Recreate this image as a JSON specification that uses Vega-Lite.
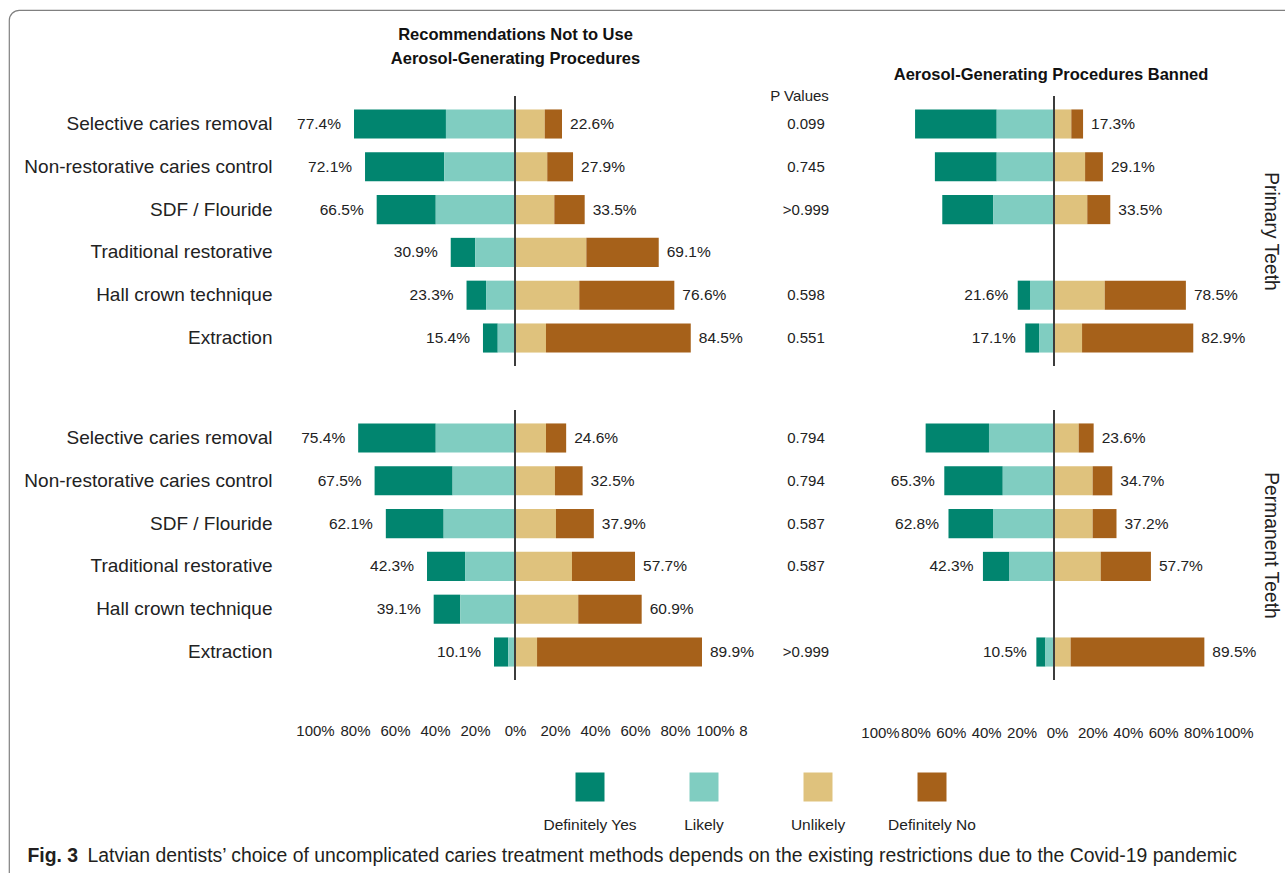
{
  "$schema": "https://vega.github.io/schema/vega-lite/v6.json",
  "width": 1286,
  "height": 873,
  "autosize": {"type": "none"},
  "padding": {"left": 9, "top": 10, "right": -10, "bottom": -10},
  "background": "white",
  "config": {
    "font": "Liberation Sans",
    "view": {"stroke": "#808080", "strokeWidth": 1.2, "cornerRadius": 10},
    "axis": {"grid": false, "domain": false, "ticks": false, "tickSize": 0, "labelColor": "#222222", "titleColor": "#222222", "labelFont": "Liberation Sans", "titleFont": "Liberation Sans", "labelFlush": false, "labelOverlap": false},
    "text": {"font": "Liberation Sans", "color": "#222222"}
  },
  "datasets": {
    "bars": [
      {"panel": "L", "group": "Primary", "method": "Selective caries removal", "response": "Definitely Yes", "value": -44.2},
      {"panel": "L", "group": "Primary", "method": "Selective caries removal", "response": "Likely", "value": -33.2},
      {"panel": "L", "group": "Primary", "method": "Selective caries removal", "response": "Unlikely", "value": 14.3},
      {"panel": "L", "group": "Primary", "method": "Selective caries removal", "response": "Definitely No", "value": 8.3},
      {"panel": "L", "group": "Primary", "method": "Non-restorative caries control", "response": "Definitely Yes", "value": -38.1},
      {"panel": "L", "group": "Primary", "method": "Non-restorative caries control", "response": "Likely", "value": -34.0},
      {"panel": "L", "group": "Primary", "method": "Non-restorative caries control", "response": "Unlikely", "value": 15.5},
      {"panel": "L", "group": "Primary", "method": "Non-restorative caries control", "response": "Definitely No", "value": 12.4},
      {"panel": "L", "group": "Primary", "method": "SDF / Flouride", "response": "Definitely Yes", "value": -28.4},
      {"panel": "L", "group": "Primary", "method": "SDF / Flouride", "response": "Likely", "value": -38.1},
      {"panel": "L", "group": "Primary", "method": "SDF / Flouride", "response": "Unlikely", "value": 18.9},
      {"panel": "L", "group": "Primary", "method": "SDF / Flouride", "response": "Definitely No", "value": 14.6},
      {"panel": "L", "group": "Primary", "method": "Traditional restorative", "response": "Definitely Yes", "value": -11.8},
      {"panel": "L", "group": "Primary", "method": "Traditional restorative", "response": "Likely", "value": -19.1},
      {"panel": "L", "group": "Primary", "method": "Traditional restorative", "response": "Unlikely", "value": 34.3},
      {"panel": "L", "group": "Primary", "method": "Traditional restorative", "response": "Definitely No", "value": 34.8},
      {"panel": "L", "group": "Primary", "method": "Hall crown technique", "response": "Definitely Yes", "value": -9.4},
      {"panel": "L", "group": "Primary", "method": "Hall crown technique", "response": "Likely", "value": -13.9},
      {"panel": "L", "group": "Primary", "method": "Hall crown technique", "response": "Unlikely", "value": 30.9},
      {"panel": "L", "group": "Primary", "method": "Hall crown technique", "response": "Definitely No", "value": 45.7},
      {"panel": "L", "group": "Primary", "method": "Extraction", "response": "Definitely Yes", "value": -7.1},
      {"panel": "L", "group": "Primary", "method": "Extraction", "response": "Likely", "value": -8.3},
      {"panel": "L", "group": "Primary", "method": "Extraction", "response": "Unlikely", "value": 14.9},
      {"panel": "L", "group": "Primary", "method": "Extraction", "response": "Definitely No", "value": 69.6},

      {"panel": "L", "group": "Permanent", "method": "Selective caries removal", "response": "Definitely Yes", "value": -37.3},
      {"panel": "L", "group": "Permanent", "method": "Selective caries removal", "response": "Likely", "value": -38.1},
      {"panel": "L", "group": "Permanent", "method": "Selective caries removal", "response": "Unlikely", "value": 14.9},
      {"panel": "L", "group": "Permanent", "method": "Selective caries removal", "response": "Definitely No", "value": 9.7},
      {"panel": "L", "group": "Permanent", "method": "Non-restorative caries control", "response": "Definitely Yes", "value": -37.5},
      {"panel": "L", "group": "Permanent", "method": "Non-restorative caries control", "response": "Likely", "value": -30.0},
      {"panel": "L", "group": "Permanent", "method": "Non-restorative caries control", "response": "Unlikely", "value": 19.2},
      {"panel": "L", "group": "Permanent", "method": "Non-restorative caries control", "response": "Definitely No", "value": 13.3},
      {"panel": "L", "group": "Permanent", "method": "SDF / Flouride", "response": "Definitely Yes", "value": -27.8},
      {"panel": "L", "group": "Permanent", "method": "SDF / Flouride", "response": "Likely", "value": -34.3},
      {"panel": "L", "group": "Permanent", "method": "SDF / Flouride", "response": "Unlikely", "value": 19.7},
      {"panel": "L", "group": "Permanent", "method": "SDF / Flouride", "response": "Definitely No", "value": 18.2},
      {"panel": "L", "group": "Permanent", "method": "Traditional restorative", "response": "Definitely Yes", "value": -18.3},
      {"panel": "L", "group": "Permanent", "method": "Traditional restorative", "response": "Likely", "value": -24.0},
      {"panel": "L", "group": "Permanent", "method": "Traditional restorative", "response": "Unlikely", "value": 27.4},
      {"panel": "L", "group": "Permanent", "method": "Traditional restorative", "response": "Definitely No", "value": 30.3},
      {"panel": "L", "group": "Permanent", "method": "Hall crown technique", "response": "Definitely Yes", "value": -12.8},
      {"panel": "L", "group": "Permanent", "method": "Hall crown technique", "response": "Likely", "value": -26.3},
      {"panel": "L", "group": "Permanent", "method": "Hall crown technique", "response": "Unlikely", "value": 30.4},
      {"panel": "L", "group": "Permanent", "method": "Hall crown technique", "response": "Definitely No", "value": 30.5},
      {"panel": "L", "group": "Permanent", "method": "Extraction", "response": "Definitely Yes", "value": -6.9},
      {"panel": "L", "group": "Permanent", "method": "Extraction", "response": "Likely", "value": -3.2},
      {"panel": "L", "group": "Permanent", "method": "Extraction", "response": "Unlikely", "value": 10.6},
      {"panel": "L", "group": "Permanent", "method": "Extraction", "response": "Definitely No", "value": 79.3},

      {"panel": "R", "group": "Primary", "method": "Selective caries removal", "response": "Definitely Yes", "value": -48.6},
      {"panel": "R", "group": "Primary", "method": "Selective caries removal", "response": "Likely", "value": -34.1},
      {"panel": "R", "group": "Primary", "method": "Selective caries removal", "response": "Unlikely", "value": 10.3},
      {"panel": "R", "group": "Primary", "method": "Selective caries removal", "response": "Definitely No", "value": 7.0},
      {"panel": "R", "group": "Primary", "method": "Non-restorative caries control", "response": "Definitely Yes", "value": -36.8},
      {"panel": "R", "group": "Primary", "method": "Non-restorative caries control", "response": "Likely", "value": -34.1},
      {"panel": "R", "group": "Primary", "method": "Non-restorative caries control", "response": "Unlikely", "value": 18.5},
      {"panel": "R", "group": "Primary", "method": "Non-restorative caries control", "response": "Definitely No", "value": 10.6},
      {"panel": "R", "group": "Primary", "method": "SDF / Flouride", "response": "Definitely Yes", "value": -30.4},
      {"panel": "R", "group": "Primary", "method": "SDF / Flouride", "response": "Likely", "value": -36.1},
      {"panel": "R", "group": "Primary", "method": "SDF / Flouride", "response": "Unlikely", "value": 19.8},
      {"panel": "R", "group": "Primary", "method": "SDF / Flouride", "response": "Definitely No", "value": 13.7},
      {"panel": "R", "group": "Primary", "method": "Hall crown technique", "response": "Definitely Yes", "value": -7.3},
      {"panel": "R", "group": "Primary", "method": "Hall crown technique", "response": "Likely", "value": -14.3},
      {"panel": "R", "group": "Primary", "method": "Hall crown technique", "response": "Unlikely", "value": 30.2},
      {"panel": "R", "group": "Primary", "method": "Hall crown technique", "response": "Definitely No", "value": 48.3},
      {"panel": "R", "group": "Primary", "method": "Extraction", "response": "Definitely Yes", "value": -8.2},
      {"panel": "R", "group": "Primary", "method": "Extraction", "response": "Likely", "value": -8.9},
      {"panel": "R", "group": "Primary", "method": "Extraction", "response": "Unlikely", "value": 16.7},
      {"panel": "R", "group": "Primary", "method": "Extraction", "response": "Definitely No", "value": 66.2},

      {"panel": "R", "group": "Permanent", "method": "Selective caries removal", "response": "Definitely Yes", "value": -37.7},
      {"panel": "R", "group": "Permanent", "method": "Selective caries removal", "response": "Likely", "value": -38.7},
      {"panel": "R", "group": "Permanent", "method": "Selective caries removal", "response": "Unlikely", "value": 14.7},
      {"panel": "R", "group": "Permanent", "method": "Selective caries removal", "response": "Definitely No", "value": 8.9},
      {"panel": "R", "group": "Permanent", "method": "Non-restorative caries control", "response": "Definitely Yes", "value": -34.8},
      {"panel": "R", "group": "Permanent", "method": "Non-restorative caries control", "response": "Likely", "value": -30.5},
      {"panel": "R", "group": "Permanent", "method": "Non-restorative caries control", "response": "Unlikely", "value": 23.0},
      {"panel": "R", "group": "Permanent", "method": "Non-restorative caries control", "response": "Definitely No", "value": 11.7},
      {"panel": "R", "group": "Permanent", "method": "SDF / Flouride", "response": "Definitely Yes", "value": -26.5},
      {"panel": "R", "group": "Permanent", "method": "SDF / Flouride", "response": "Likely", "value": -36.3},
      {"panel": "R", "group": "Permanent", "method": "SDF / Flouride", "response": "Unlikely", "value": 23.0},
      {"panel": "R", "group": "Permanent", "method": "SDF / Flouride", "response": "Definitely No", "value": 14.2},
      {"panel": "R", "group": "Permanent", "method": "Traditional restorative", "response": "Definitely Yes", "value": -15.8},
      {"panel": "R", "group": "Permanent", "method": "Traditional restorative", "response": "Likely", "value": -26.5},
      {"panel": "R", "group": "Permanent", "method": "Traditional restorative", "response": "Unlikely", "value": 27.8},
      {"panel": "R", "group": "Permanent", "method": "Traditional restorative", "response": "Definitely No", "value": 29.9},
      {"panel": "R", "group": "Permanent", "method": "Extraction", "response": "Definitely Yes", "value": -5.4},
      {"panel": "R", "group": "Permanent", "method": "Extraction", "response": "Likely", "value": -5.1},
      {"panel": "R", "group": "Permanent", "method": "Extraction", "response": "Unlikely", "value": 9.9},
      {"panel": "R", "group": "Permanent", "method": "Extraction", "response": "Definitely No", "value": 79.6}
    ],
    "labels": [
      {"panel": "L", "group": "Primary", "method": "Selective caries removal", "side": "yes", "value": -77.4, "label": "77.4%"},
      {"panel": "L", "group": "Primary", "method": "Non-restorative caries control", "side": "yes", "value": -72.1, "label": "72.1%"},
      {"panel": "L", "group": "Primary", "method": "SDF / Flouride", "side": "yes", "value": -66.5, "label": "66.5%"},
      {"panel": "L", "group": "Primary", "method": "Traditional restorative", "side": "yes", "value": -30.9, "label": "30.9%"},
      {"panel": "L", "group": "Primary", "method": "Hall crown technique", "side": "yes", "value": -23.3, "label": "23.3%"},
      {"panel": "L", "group": "Primary", "method": "Extraction", "side": "yes", "value": -15.4, "label": "15.4%"},
      {"panel": "L", "group": "Primary", "method": "Selective caries removal", "side": "no", "value": 22.6, "label": "22.6%"},
      {"panel": "L", "group": "Primary", "method": "Non-restorative caries control", "side": "no", "value": 27.9, "label": "27.9%"},
      {"panel": "L", "group": "Primary", "method": "SDF / Flouride", "side": "no", "value": 33.5, "label": "33.5%"},
      {"panel": "L", "group": "Primary", "method": "Traditional restorative", "side": "no", "value": 69.1, "label": "69.1%"},
      {"panel": "L", "group": "Primary", "method": "Hall crown technique", "side": "no", "value": 76.6, "label": "76.6%"},
      {"panel": "L", "group": "Primary", "method": "Extraction", "side": "no", "value": 84.5, "label": "84.5%"},

      {"panel": "L", "group": "Permanent", "method": "Selective caries removal", "side": "yes", "value": -75.4, "label": "75.4%"},
      {"panel": "L", "group": "Permanent", "method": "Non-restorative caries control", "side": "yes", "value": -67.5, "label": "67.5%"},
      {"panel": "L", "group": "Permanent", "method": "SDF / Flouride", "side": "yes", "value": -62.1, "label": "62.1%"},
      {"panel": "L", "group": "Permanent", "method": "Traditional restorative", "side": "yes", "value": -42.3, "label": "42.3%"},
      {"panel": "L", "group": "Permanent", "method": "Hall crown technique", "side": "yes", "value": -39.1, "label": "39.1%"},
      {"panel": "L", "group": "Permanent", "method": "Extraction", "side": "yes", "value": -10.1, "label": "10.1%"},
      {"panel": "L", "group": "Permanent", "method": "Selective caries removal", "side": "no", "value": 24.6, "label": "24.6%"},
      {"panel": "L", "group": "Permanent", "method": "Non-restorative caries control", "side": "no", "value": 32.5, "label": "32.5%"},
      {"panel": "L", "group": "Permanent", "method": "SDF / Flouride", "side": "no", "value": 37.9, "label": "37.9%"},
      {"panel": "L", "group": "Permanent", "method": "Traditional restorative", "side": "no", "value": 57.7, "label": "57.7%"},
      {"panel": "L", "group": "Permanent", "method": "Hall crown technique", "side": "no", "value": 60.9, "label": "60.9%"},
      {"panel": "L", "group": "Permanent", "method": "Extraction", "side": "no", "value": 89.9, "label": "89.9%"},

      {"panel": "R", "group": "Primary", "method": "Hall crown technique", "side": "yes", "value": -21.6, "label": "21.6%"},
      {"panel": "R", "group": "Primary", "method": "Extraction", "side": "yes", "value": -17.1, "label": "17.1%"},
      {"panel": "R", "group": "Primary", "method": "Selective caries removal", "side": "no", "value": 17.3, "label": "17.3%"},
      {"panel": "R", "group": "Primary", "method": "Non-restorative caries control", "side": "no", "value": 29.1, "label": "29.1%"},
      {"panel": "R", "group": "Primary", "method": "SDF / Flouride", "side": "no", "value": 33.5, "label": "33.5%"},
      {"panel": "R", "group": "Primary", "method": "Hall crown technique", "side": "no", "value": 78.5, "label": "78.5%"},
      {"panel": "R", "group": "Primary", "method": "Extraction", "side": "no", "value": 82.9, "label": "82.9%"},

      {"panel": "R", "group": "Permanent", "method": "Non-restorative caries control", "side": "yes", "value": -65.3, "label": "65.3%"},
      {"panel": "R", "group": "Permanent", "method": "SDF / Flouride", "side": "yes", "value": -62.8, "label": "62.8%"},
      {"panel": "R", "group": "Permanent", "method": "Traditional restorative", "side": "yes", "value": -42.3, "label": "42.3%"},
      {"panel": "R", "group": "Permanent", "method": "Extraction", "side": "yes", "value": -10.5, "label": "10.5%"},
      {"panel": "R", "group": "Permanent", "method": "Selective caries removal", "side": "no", "value": 23.6, "label": "23.6%"},
      {"panel": "R", "group": "Permanent", "method": "Non-restorative caries control", "side": "no", "value": 34.7, "label": "34.7%"},
      {"panel": "R", "group": "Permanent", "method": "SDF / Flouride", "side": "no", "value": 37.2, "label": "37.2%"},
      {"panel": "R", "group": "Permanent", "method": "Traditional restorative", "side": "no", "value": 57.7, "label": "57.7%"},
      {"panel": "R", "group": "Permanent", "method": "Extraction", "side": "no", "value": 89.5, "label": "89.5%"}
    ],
    "rows": [
      {"group": "Primary", "method": "Selective caries removal", "p": "0.099"},
      {"group": "Primary", "method": "Non-restorative caries control", "p": "0.745"},
      {"group": "Primary", "method": "SDF / Flouride", "p": ">0.999"},
      {"group": "Primary", "method": "Traditional restorative", "p": ""},
      {"group": "Primary", "method": "Hall crown technique", "p": "0.598"},
      {"group": "Primary", "method": "Extraction", "p": "0.551"},
      {"group": "Permanent", "method": "Selective caries removal", "p": "0.794"},
      {"group": "Permanent", "method": "Non-restorative caries control", "p": "0.794"},
      {"group": "Permanent", "method": "SDF / Flouride", "p": "0.587"},
      {"group": "Permanent", "method": "Traditional restorative", "p": "0.587"},
      {"group": "Permanent", "method": "Hall crown technique", "p": ""},
      {"group": "Permanent", "method": "Extraction", "p": ">0.999"}
    ],
    "legend": [
      {"response": "Definitely Yes"},
      {"response": "Likely"},
      {"response": "Unlikely"},
      {"response": "Definitely No"}
    ]
  },
  "resolve": {"scale": {"x": "independent", "y": "independent"}},
  "layer": [
    {
      "data": {"name": "bars"},
      "transform": [{"filter": "datum.panel === 'L' && datum.group === 'Primary'"}],
      "mark": {"type": "bar"},
      "encoding": {
        "x": {"field": "value", "type": "quantitative", "scale": {"domain": [-100, 100], "range": [298, 714], "nice": false, "zero": false},
          "axis": {"orient": "top", "labels": false, "title": ["Recommendations Not to Use", "Aerosol-Generating Procedures"], "titleX": 506, "titleY": 24, "titleAlign": "center", "titleBaseline": "middle", "titleFontSize": 16.5, "titleFontWeight": "bold", "titleLineHeight": 24, "titleColor": "#111111"}},
        "y": {"field": "method", "type": "nominal",
          "scale": {"type": "band", "domain": ["Selective caries removal", "Non-restorative caries control", "SDF / Flouride", "Traditional restorative", "Hall crown technique", "Extraction"], "range": [86, 356], "paddingInner": 0.32, "paddingOuter": 0.314},
          "axis": {"orient": "left", "offset": -263, "labelPadding": 0, "labelFontSize": 19, "labelLimit": 500, "title": null}},
        "color": {"field": "response", "type": "nominal", "scale": {"domain": ["Definitely Yes", "Likely", "Unlikely", "Definitely No"], "range": ["#01856f", "#80cdc1", "#dfc27d", "#a6611a"]}, "legend": null},
        "order": {"field": "response", "sort": "descending"}
      }
    },
    {
      "data": {"name": "labels"},
      "transform": [{"filter": "datum.panel === 'L' && datum.group === 'Primary' && datum.side === 'yes'"}],
      "mark": {"type": "text", "align": "right", "baseline": "middle", "dx": -13, "fontSize": 15.5},
      "encoding": {
        "x": {"field": "value", "type": "quantitative", "scale": {"domain": [-100, 100], "range": [298, 714], "nice": false, "zero": false}, "axis": null},
        "y": {"field": "method", "type": "nominal", "scale": {"type": "band", "domain": ["Selective caries removal", "Non-restorative caries control", "SDF / Flouride", "Traditional restorative", "Hall crown technique", "Extraction"], "range": [86, 356], "paddingInner": 0.32, "paddingOuter": 0.314}, "axis": null},
        "text": {"field": "label"}
      }
    },
    {
      "data": {"name": "labels"},
      "transform": [{"filter": "datum.panel === 'L' && datum.group === 'Primary' && datum.side === 'no'"}],
      "mark": {"type": "text", "align": "left", "baseline": "middle", "dx": 8, "fontSize": 15.5},
      "encoding": {
        "x": {"field": "value", "type": "quantitative", "scale": {"domain": [-100, 100], "range": [298, 714], "nice": false, "zero": false}, "axis": null},
        "y": {"field": "method", "type": "nominal", "scale": {"type": "band", "domain": ["Selective caries removal", "Non-restorative caries control", "SDF / Flouride", "Traditional restorative", "Hall crown technique", "Extraction"], "range": [86, 356], "paddingInner": 0.32, "paddingOuter": 0.314}, "axis": null},
        "text": {"field": "label"}
      }
    },
    {
      "data": {"name": "rows"},
      "transform": [{"filter": "datum.group === 'Primary'"}],
      "mark": {"type": "tick", "orient": "vertical", "size": 56, "thickness": 2, "color": "#3c3c3c", "opacity": 1},
      "encoding": {
        "x": {"datum": 0, "type": "quantitative", "scale": {"domain": [-100, 100], "range": [298, 714], "nice": false, "zero": false}, "axis": null},
        "y": {"field": "method", "type": "nominal", "scale": {"type": "band", "domain": ["Selective caries removal", "Non-restorative caries control", "SDF / Flouride", "Traditional restorative", "Hall crown technique", "Extraction"], "range": [86, 356], "paddingInner": 0.32, "paddingOuter": 0.314}, "axis": null}
      }
    },

    {
      "data": {"name": "bars"},
      "transform": [{"filter": "datum.panel === 'L' && datum.group === 'Permanent'"}],
      "mark": {"type": "bar"},
      "encoding": {
        "x": {"field": "value", "type": "quantitative", "scale": {"domain": [-100, 100], "range": [298, 714], "nice": false, "zero": false}, "axis": null},
        "y": {"field": "method", "type": "nominal",
          "scale": {"type": "band", "domain": ["Selective caries removal", "Non-restorative caries control", "SDF / Flouride", "Traditional restorative", "Hall crown technique", "Extraction"], "range": [400, 670], "paddingInner": 0.32, "paddingOuter": 0.314},
          "axis": {"orient": "left", "offset": -263, "labelPadding": 0, "labelFontSize": 19, "labelLimit": 500, "title": null}},
        "color": {"field": "response", "type": "nominal", "legend": null},
        "order": {"field": "response", "sort": "descending"}
      }
    },
    {
      "data": {"name": "labels"},
      "transform": [{"filter": "datum.panel === 'L' && datum.group === 'Permanent' && datum.side === 'yes'"}],
      "mark": {"type": "text", "align": "right", "baseline": "middle", "dx": -13, "fontSize": 15.5},
      "encoding": {
        "x": {"field": "value", "type": "quantitative", "scale": {"domain": [-100, 100], "range": [298, 714], "nice": false, "zero": false}, "axis": null},
        "y": {"field": "method", "type": "nominal", "scale": {"type": "band", "domain": ["Selective caries removal", "Non-restorative caries control", "SDF / Flouride", "Traditional restorative", "Hall crown technique", "Extraction"], "range": [400, 670], "paddingInner": 0.32, "paddingOuter": 0.314}, "axis": null},
        "text": {"field": "label"}
      }
    },
    {
      "data": {"name": "labels"},
      "transform": [{"filter": "datum.panel === 'L' && datum.group === 'Permanent' && datum.side === 'no'"}],
      "mark": {"type": "text", "align": "left", "baseline": "middle", "dx": 8, "fontSize": 15.5},
      "encoding": {
        "x": {"field": "value", "type": "quantitative", "scale": {"domain": [-100, 100], "range": [298, 714], "nice": false, "zero": false}, "axis": null},
        "y": {"field": "method", "type": "nominal", "scale": {"type": "band", "domain": ["Selective caries removal", "Non-restorative caries control", "SDF / Flouride", "Traditional restorative", "Hall crown technique", "Extraction"], "range": [400, 670], "paddingInner": 0.32, "paddingOuter": 0.314}, "axis": null},
        "text": {"field": "label"}
      }
    },
    {
      "data": {"name": "rows"},
      "transform": [{"filter": "datum.group === 'Permanent'"}],
      "mark": {"type": "tick", "orient": "vertical", "size": 56, "thickness": 2, "color": "#3c3c3c", "opacity": 1},
      "encoding": {
        "x": {"datum": 0, "type": "quantitative", "scale": {"domain": [-100, 100], "range": [298, 714], "nice": false, "zero": false}, "axis": null},
        "y": {"field": "method", "type": "nominal", "scale": {"type": "band", "domain": ["Selective caries removal", "Non-restorative caries control", "SDF / Flouride", "Traditional restorative", "Hall crown technique", "Extraction"], "range": [400, 670], "paddingInner": 0.32, "paddingOuter": 0.314}, "axis": null}
      }
    },

    {
      "data": {"name": "bars"},
      "transform": [{"filter": "datum.panel === 'R' && datum.group === 'Primary'"}],
      "mark": {"type": "bar"},
      "encoding": {
        "x": {"field": "value", "type": "quantitative", "scale": {"domain": [-100, 100], "range": [877, 1213], "nice": false, "zero": false},
          "axis": {"orient": "top", "labels": false, "title": "Aerosol-Generating Procedures Banned", "titleX": 1041.5, "titleY": 64, "titleAlign": "center", "titleBaseline": "middle", "titleFontSize": 16.5, "titleFontWeight": "bold", "titleColor": "#111111"}},
        "y": {"field": "method", "type": "nominal",
          "scale": {"type": "band", "domain": ["Selective caries removal", "Non-restorative caries control", "SDF / Flouride", "Traditional restorative", "Hall crown technique", "Extraction"], "range": [86, 356], "paddingInner": 0.32, "paddingOuter": 0.314},
          "axis": {"orient": "right", "labels": false, "title": "Primary Teeth", "titleAngle": 90, "titleX": -25, "titleY": 221, "titleAlign": "center", "titleBaseline": "middle", "titleFontSize": 19.3, "titleFontWeight": "normal"}},
        "color": {"field": "response", "type": "nominal", "legend": null},
        "order": {"field": "response", "sort": "descending"}
      }
    },
    {
      "data": {"name": "labels"},
      "transform": [{"filter": "datum.panel === 'R' && datum.group === 'Primary' && datum.side === 'yes'"}],
      "mark": {"type": "text", "align": "right", "baseline": "middle", "dx": -9.5, "fontSize": 15.5},
      "encoding": {
        "x": {"field": "value", "type": "quantitative", "scale": {"domain": [-100, 100], "range": [877, 1213], "nice": false, "zero": false}, "axis": null},
        "y": {"field": "method", "type": "nominal", "scale": {"type": "band", "domain": ["Selective caries removal", "Non-restorative caries control", "SDF / Flouride", "Traditional restorative", "Hall crown technique", "Extraction"], "range": [86, 356], "paddingInner": 0.32, "paddingOuter": 0.314}, "axis": null},
        "text": {"field": "label"}
      }
    },
    {
      "data": {"name": "labels"},
      "transform": [{"filter": "datum.panel === 'R' && datum.group === 'Primary' && datum.side === 'no'"}],
      "mark": {"type": "text", "align": "left", "baseline": "middle", "dx": 8, "fontSize": 15.5},
      "encoding": {
        "x": {"field": "value", "type": "quantitative", "scale": {"domain": [-100, 100], "range": [877, 1213], "nice": false, "zero": false}, "axis": null},
        "y": {"field": "method", "type": "nominal", "scale": {"type": "band", "domain": ["Selective caries removal", "Non-restorative caries control", "SDF / Flouride", "Traditional restorative", "Hall crown technique", "Extraction"], "range": [86, 356], "paddingInner": 0.32, "paddingOuter": 0.314}, "axis": null},
        "text": {"field": "label"}
      }
    },
    {
      "data": {"name": "rows"},
      "transform": [{"filter": "datum.group === 'Primary'"}],
      "mark": {"type": "tick", "orient": "vertical", "size": 56, "thickness": 2, "color": "#3c3c3c", "opacity": 1},
      "encoding": {
        "x": {"datum": 0, "type": "quantitative", "scale": {"domain": [-100, 100], "range": [877, 1213], "nice": false, "zero": false}, "axis": null},
        "y": {"field": "method", "type": "nominal", "scale": {"type": "band", "domain": ["Selective caries removal", "Non-restorative caries control", "SDF / Flouride", "Traditional restorative", "Hall crown technique", "Extraction"], "range": [86, 356], "paddingInner": 0.32, "paddingOuter": 0.314}, "axis": null}
      }
    },

    {
      "data": {"name": "bars"},
      "transform": [{"filter": "datum.panel === 'R' && datum.group === 'Permanent'"}],
      "mark": {"type": "bar"},
      "encoding": {
        "x": {"field": "value", "type": "quantitative", "scale": {"domain": [-100, 100], "range": [877, 1213], "nice": false, "zero": false}, "axis": null},
        "y": {"field": "method", "type": "nominal",
          "scale": {"type": "band", "domain": ["Selective caries removal", "Non-restorative caries control", "SDF / Flouride", "Traditional restorative", "Hall crown technique", "Extraction"], "range": [400, 670], "paddingInner": 0.32, "paddingOuter": 0.314},
          "axis": {"orient": "right", "labels": false, "title": "Permanent Teeth", "titleAngle": 90, "titleX": -25, "titleY": 535, "titleAlign": "center", "titleBaseline": "middle", "titleFontSize": 19.3, "titleFontWeight": "normal"}},
        "color": {"field": "response", "type": "nominal", "legend": null},
        "order": {"field": "response", "sort": "descending"}
      }
    },
    {
      "data": {"name": "labels"},
      "transform": [{"filter": "datum.panel === 'R' && datum.group === 'Permanent' && datum.side === 'yes'"}],
      "mark": {"type": "text", "align": "right", "baseline": "middle", "dx": -9.5, "fontSize": 15.5},
      "encoding": {
        "x": {"field": "value", "type": "quantitative", "scale": {"domain": [-100, 100], "range": [877, 1213], "nice": false, "zero": false}, "axis": null},
        "y": {"field": "method", "type": "nominal", "scale": {"type": "band", "domain": ["Selective caries removal", "Non-restorative caries control", "SDF / Flouride", "Traditional restorative", "Hall crown technique", "Extraction"], "range": [400, 670], "paddingInner": 0.32, "paddingOuter": 0.314}, "axis": null},
        "text": {"field": "label"}
      }
    },
    {
      "data": {"name": "labels"},
      "transform": [{"filter": "datum.panel === 'R' && datum.group === 'Permanent' && datum.side === 'no'"}],
      "mark": {"type": "text", "align": "left", "baseline": "middle", "dx": 8, "fontSize": 15.5},
      "encoding": {
        "x": {"field": "value", "type": "quantitative", "scale": {"domain": [-100, 100], "range": [877, 1213], "nice": false, "zero": false}, "axis": null},
        "y": {"field": "method", "type": "nominal", "scale": {"type": "band", "domain": ["Selective caries removal", "Non-restorative caries control", "SDF / Flouride", "Traditional restorative", "Hall crown technique", "Extraction"], "range": [400, 670], "paddingInner": 0.32, "paddingOuter": 0.314}, "axis": null},
        "text": {"field": "label"}
      }
    },
    {
      "data": {"name": "rows"},
      "transform": [{"filter": "datum.group === 'Permanent'"}],
      "mark": {"type": "tick", "orient": "vertical", "size": 56, "thickness": 2, "color": "#3c3c3c", "opacity": 1},
      "encoding": {
        "x": {"datum": 0, "type": "quantitative", "scale": {"domain": [-100, 100], "range": [877, 1213], "nice": false, "zero": false}, "axis": null},
        "y": {"field": "method", "type": "nominal", "scale": {"type": "band", "domain": ["Selective caries removal", "Non-restorative caries control", "SDF / Flouride", "Traditional restorative", "Hall crown technique", "Extraction"], "range": [400, 670], "paddingInner": 0.32, "paddingOuter": 0.314}, "axis": null}
      }
    },

    {
      "data": {"name": "rows"},
      "transform": [{"filter": "datum.group === 'Primary'"}],
      "mark": {"type": "text", "fontSize": 15, "baseline": "middle"},
      "encoding": {
        "x": {"datum": "P Values", "type": "nominal", "scale": {"type": "point", "domain": ["P Values"], "range": [797, 797]},
          "axis": {"orient": "top", "offset": -85, "labelPadding": 0, "labelBaseline": "middle", "labelFontSize": 15, "labelOffset": -7, "labelAngle": 0, "title": null}},
        "y": {"field": "method", "type": "nominal",
          "scale": {"type": "band", "domain": ["Selective caries removal", "Non-restorative caries control", "SDF / Flouride", "Traditional restorative", "Hall crown technique", "Extraction"], "range": [86, 356], "paddingInner": 0.32, "paddingOuter": 0.314}, "axis": null},
        "text": {"field": "p"}
      }
    },
    {
      "data": {"name": "rows"},
      "transform": [{"filter": "datum.group === 'Permanent'"}],
      "mark": {"type": "text", "fontSize": 15, "baseline": "middle"},
      "encoding": {
        "x": {"datum": "P Values", "type": "nominal", "scale": {"type": "point", "domain": ["P Values"], "range": [797, 797]}, "axis": null},
        "y": {"field": "method", "type": "nominal",
          "scale": {"type": "band", "domain": ["Selective caries removal", "Non-restorative caries control", "SDF / Flouride", "Traditional restorative", "Hall crown technique", "Extraction"], "range": [400, 670], "paddingInner": 0.32, "paddingOuter": 0.314}, "axis": null},
        "text": {"field": "p"}
      }
    },

    {
      "data": {"name": "legend"},
      "mark": {"type": "point", "opacity": 0},
      "encoding": {
        "x": {"datum": 0, "type": "quantitative", "scale": {"domain": [-100, 120], "range": [306, 746], "nice": false, "zero": false},
          "axis": {"orient": "bottom", "offset": -153, "values": [-100, -80, -60, -40, -20, 0, 20, 40, 60, 80, 100, 114], "labelExpr": "datum.value > 100 ? '8' : (abs(datum.value) + '%')", "labelPadding": 0, "labelBaseline": "middle", "labelFontSize": 15, "labelAngle": 0, "title": null}}
      }
    },
    {
      "data": {"name": "legend"},
      "mark": {"type": "point", "opacity": 0},
      "encoding": {
        "x": {"datum": 0, "type": "quantitative", "scale": {"domain": [-100, 100], "range": [871, 1225], "nice": false, "zero": false},
          "axis": {"orient": "bottom", "offset": -151, "values": [-100, -80, -60, -40, -20, 0, 20, 40, 60, 80, 100], "labelExpr": "abs(datum.value) + '%'", "labelPadding": 0, "labelBaseline": "middle", "labelFontSize": 15, "labelAngle": 0, "title": null}}
      }
    },

    {
      "data": {"name": "legend"},
      "mark": {"type": "square", "size": 841, "opacity": 1, "filled": true},
      "encoding": {
        "x": {"field": "response", "type": "nominal", "scale": {"type": "point", "domain": ["Definitely Yes", "Likely", "Unlikely", "Definitely No"], "range": [581, 923], "padding": 0},
          "axis": {"orient": "bottom", "labels": false, "title": "Fig. 3", "titleX": 18, "titleY": -22, "titleAlign": "left", "titleBaseline": "alphabetic", "titleFontSize": 19.4, "titleFontWeight": "bold", "titleColor": "#231f20"}},
        "y": {"datum": "legend", "type": "nominal", "scale": {"type": "point", "domain": ["legend"], "range": [777, 777]},
          "axis": {"orient": "left", "labels": false, "title": "Latvian dentists’ choice of uncomplicated caries treatment methods depends on the existing restrictions due to the Covid-19 pandemic", "titleAngle": 0, "titleX": 78, "titleY": 851, "titleAlign": "left", "titleBaseline": "alphabetic", "titleFontSize": 19.4, "titleFontWeight": "normal", "titleColor": "#231f20", "titleLimit": 1300}},
        "color": {"field": "response", "type": "nominal", "legend": null}
      }
    },
    {
      "data": {"name": "legend"},
      "mark": {"type": "text", "dy": 38, "fontSize": 15.5, "baseline": "middle"},
      "encoding": {
        "x": {"field": "response", "type": "nominal", "scale": {"type": "point", "domain": ["Definitely Yes", "Likely", "Unlikely", "Definitely No"], "range": [581, 923], "padding": 0}, "axis": null},
        "y": {"datum": "legend", "type": "nominal", "scale": {"type": "point", "domain": ["legend"], "range": [777, 777]}, "axis": null},
        "text": {"field": "response"}
      }
    }
  ]
}
